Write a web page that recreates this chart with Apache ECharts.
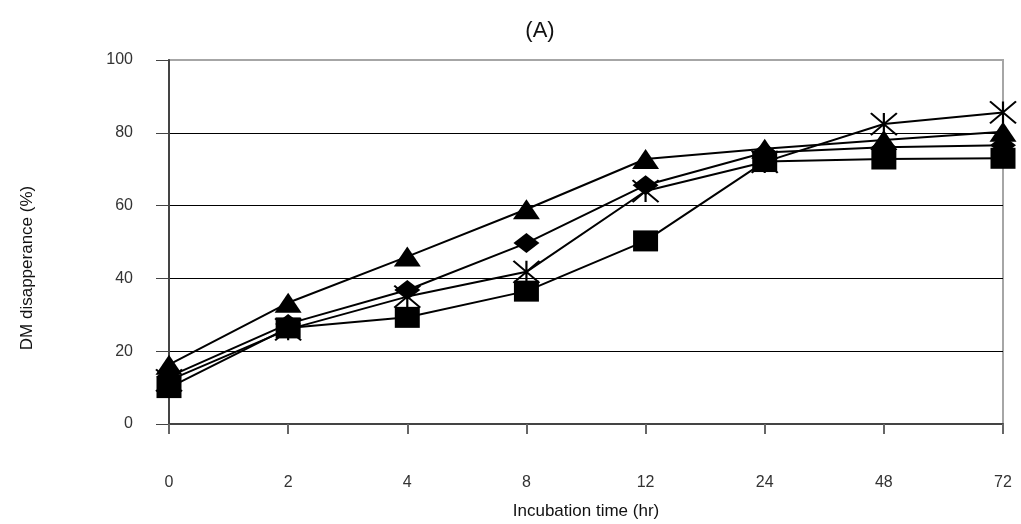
<!DOCTYPE html>
<html>
<head>
<meta charset="utf-8">
<script src="https://cdn.jsdelivr.net/npm/echarts@6/dist/echarts.min.js"></script>
<style>
  html, body { margin: 0; padding: 0; background: #fff; }
  #chart { width: 1021px; height: 524px; }
</style>
</head>
<body>
<div id="chart"></div>
<script>
// incubation times (hr), one category each
const hours = ["0", "2", "4", "8", "12", "24", "48", "72"];
const yTicks = [0, 20, 40, 60, 80, 100];

// DM disappearance (%) per treatment
const diamondSeries = [13, 27.5, 36.8, 49.7, 65.6, 74.6, 76, 76.6];
const squareSeries = [10, 26.4, 29.3, 36.5, 50.3, 72.1, 72.8, 73];
const triangleSeries = [16.3, 33.3, 46, 59, 72.8, 75.6, 78, 80.3];
const starSeries = [12, 26, 35, 41.8, 64, 72, 82.4, 85.6];

const starPath = "path://M0,0L20,16M20,0L0,16M10,0L10,16";

const chart = echarts.init(document.getElementById("chart"));

const lineSeries = (data, symbol, size, extra) => ({
  type: "line",
  data: data,
  symbol: symbol,
  symbolSize: size,
  showAllSymbol: true,
  lineStyle: { color: "#000", width: 2 },
  itemStyle: Object.assign({ color: "#000", borderColor: "#000", borderWidth: 0 }, extra || {}),
  emphasis: { disabled: true },
  z: 3,
});

const option = {
  animation: false,
  textStyle: { fontFamily: "Liberation Sans, Arial, sans-serif" },
  title: {
    text: "(A)",
    left: 535,
    top: 15,
    textAlign: "center",
    textStyle: { fontSize: 22, fontWeight: "normal", color: "#111" },
  },
  grid: {
    left: 169,
    right: 18,
    top: 60,
    bottom: 100,
    outerBoundsMode: "none",
    show: true,
    borderColor: "#a6a6a6",
    borderWidth: 2,
    backgroundColor: "transparent",
  },
  xAxis: {
    type: "category",
    data: hours,
    boundaryGap: false,
    name: "Incubation time (hr)",
    nameLocation: "middle",
    nameGap: 79,
    nameTextStyle: { fontSize: 17, color: "#111" },
    axisLine: { lineStyle: { color: "#444", width: 2 } },
    axisTick: { show: true, length: 10, lineStyle: { color: "#666", width: 2 } },
    axisLabel: { margin: 51, fontSize: 16, color: "#333" },
  },
  yAxis: {
    type: "value",
    min: yTicks[0],
    max: yTicks[yTicks.length - 1],
    interval: 20,
    name: "DM disapperance (%)",
    nameLocation: "middle",
    nameGap: 133,
    nameTextStyle: { fontSize: 17, color: "#111", padding: [0, 52, 0, 0] },
    axisLine: { show: true, lineStyle: { color: "#444", width: 2 } },
    axisTick: { show: true, length: 13, lineStyle: { color: "#444", width: 1 } },
    axisLabel: { margin: 36, fontSize: 16, color: "#333" },
    splitLine: {
      show: true,
      showMaxLine: false,
      lineStyle: { color: "#000", width: 1 },
    },
  },
  series: [
    lineSeries(diamondSeries, "diamond", [26, 20]),
    lineSeries(squareSeries, "rect", [25, 21]),
    lineSeries(triangleSeries, "triangle", [27, 20]),
    lineSeries(starSeries, starPath, [26, 22], { color: "none", borderColor: "#000", borderWidth: 2 }),
  ],
};

chart.setOption(option);
</script>
</body>
</html>
